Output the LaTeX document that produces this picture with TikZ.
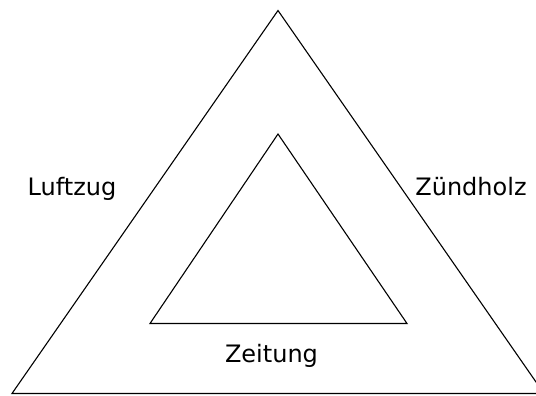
\documentclass[tikz,border=0pt]{standalone}
\usepackage{fontspec}
\setmainfont{DejaVu Sans}
\begin{document}
\begin{tikzpicture}[x=1pt,y=-1pt,line width=1.1pt,every node/.style={font=\fontsize{24}{28}\selectfont,inner sep=0pt,anchor=base}]
			\useasboundingbox (0,0) rectangle (536,396);
			\clip (0,0) rectangle (536,396);
			% outer triangle
			\coordinate (outertop) at (278,10.5);
			\coordinate (outerleft) at (12,393.5);
			\coordinate (outerright) at (544,393.5);
			\draw (outertop) -- (outerright) -- (outerleft) -- cycle;
			% inner triangle
			\coordinate (innertop) at (278,134);
			\coordinate (innerleft) at (150,323.5);
			\coordinate (innerright) at (407,323.5);
			\draw (innertop) -- (innerright) -- (innerleft) -- cycle;
			% labels
			\node (luftzug) at (72,195) {Luftzug};
			\node (zuendholz) at (471,195) {Zündholz};
			\node (zeitung) at (271.5,362) {Zeitung};
		\end{tikzpicture}
\end{document}
